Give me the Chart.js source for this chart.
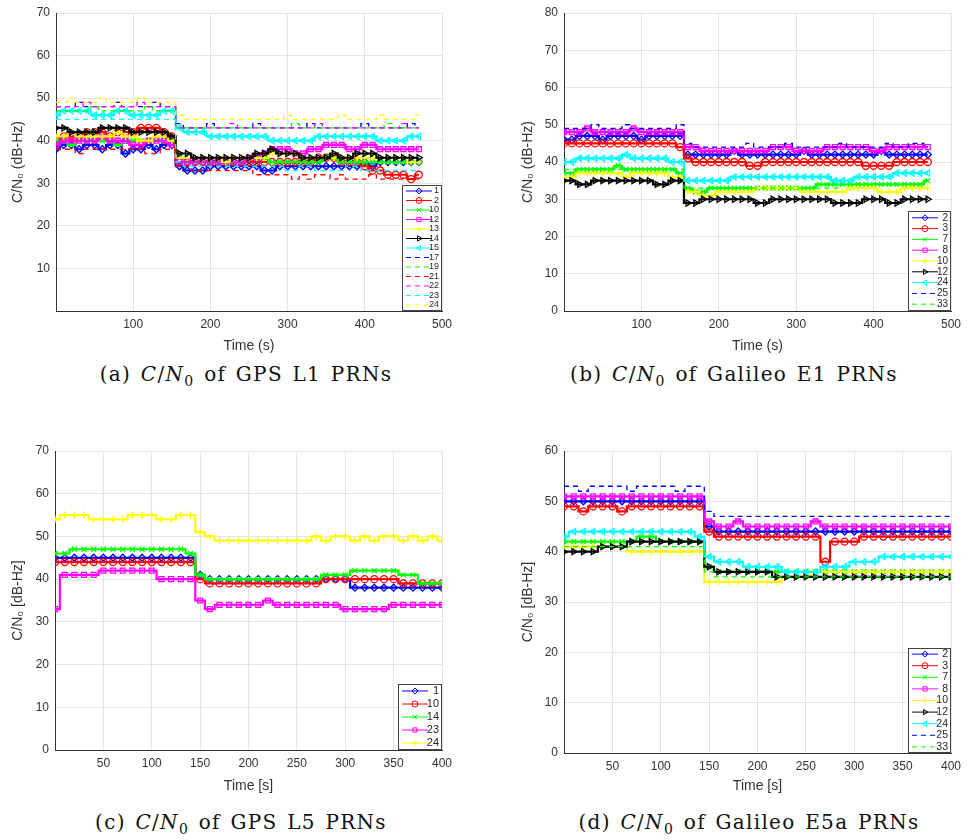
<!DOCTYPE html>
<html lang="en">
<head>
    <meta charset="UTF-8">
    <title>C/N0 of GPS and Galileo PRNs</title>
    <script src="https://cdn.jsdelivr.net/npm/chart.js"></script>
    <style>
        body { margin: 0; background: #fff; }
        #page { position: relative; width: 978px; height: 840px; overflow: hidden; }
        canvas { position: absolute; }
        .cap {
            position: absolute;
            width: 400px;
            text-align: center;
            font-family: "DejaVu Serif", "Liberation Serif", serif;
            font-size: 20px;
            letter-spacing: 1.3px;
            word-spacing: 2px;
            line-height: 24px;
            color: #111;
            white-space: nowrap;
        }
        .cap sub { font-size: 70%; line-height: 0; }
    </style>
</head>
<body>
<div id="page">
    <canvas id="chartA" width="489" height="360" style="left:0;top:0"></canvas>
    <canvas id="chartB" width="489" height="360" style="left:489px;top:0"></canvas>
    <canvas id="chartC" width="489" height="360" style="left:0;top:440px"></canvas>
    <canvas id="chartD" width="489" height="360" style="left:489px;top:440px"></canvas>
    <div class="cap" style="left:46px;top:362px">(a) <i>C</i>/<i>N</i><sub>0</sub> of GPS L1 PRNs</div>
    <div class="cap" style="left:534px;top:362px">(b) <i>C</i>/<i>N</i><sub>0</sub> of Galileo E1 PRNs</div>
    <div class="cap" style="left:41px;top:810px">(c) <i>C</i>/<i>N</i><sub>0</sub> of GPS L5 PRNs</div>
    <div class="cap" style="left:549px;top:810px">(d) <i>C</i>/<i>N</i><sub>0</sub> of Galileo E5a PRNs</div>
</div>

<script>
    // time axes (s)
    const timeL1E1 = [0,10,20,30,40,50,60,70,80,90,100,110,120,130,140,150,
        160,170,180,190,200,210,220,230,240,250,260,270,280,290,300,310,
        320,330,340,350,360,370,380,390,400,410,420,430,440,450,460,470];
    const timeL5E5a = [0,10,20,30,40,50,60,70,80,90,100,110,120,130,140,
        150,160,170,180,190,200,210,220,230,240,250,260,270,280,290,300,
        310,320,330,340,350,360,370,380,390,400];

    // (a) GPS L1, C/N0 in dB-Hz
    const l1Prn1  = [38,39,39,38,39,39,38,39,39,37,38,38,39,38,39,39,
        34,33,33,33,34,34,34,34,34,34,34,33,33,34,34,34,34,34,34,34,34,34,34,34,35,34,35,35,35,35,35,35];
    const l1Prn2  = [40,41,41,41,42,42,42,41,42,42,42,43,43,43,42,41,
        35,35,35,35,35,35,35,35,35,35,35,35,35,35,35,35,35,35,36,36,36,35,35,35,34,33,33,32,32,32,31,32];
    const l1Prn10 = [40,40,39,40,40,40,40,40,39,40,40,40,40,40,40,40,
        36,35,35,35,35,35,35,35,35,36,36,36,35,35,35,35,35,35,35,36,36,35,35,35,35,35,35,35,35,35,35,35];
    const l1Prn12 = [39,40,40,40,40,40,41,40,40,40,39,39,40,40,40,39,
        35,35,35,35,35,35,35,35,35,36,36,37,38,38,38,37,37,38,38,39,39,39,38,38,39,39,38,38,38,38,38,38];
    const l1Prn13 = [41,41,42,41,41,41,41,41,42,41,41,40,40,41,41,40,
        36,36,36,36,36,36,35,36,36,36,36,36,37,37,37,37,36,36,36,36,36,36,36,36,36,36,36,36,36,36,35,35];
    const l1Prn14 = [43,43,42,42,42,42,43,43,43,43,42,42,42,42,42,41,
        37,37,36,36,36,36,36,36,36,36,37,37,38,37,37,37,36,36,36,36,37,36,36,37,37,37,36,36,36,36,36,36];
    const l1Prn15 = [46,47,47,47,47,46,46,46,47,47,46,46,46,46,47,47,
        43,42,42,42,41,41,41,41,41,41,41,41,40,40,40,40,40,40,41,41,41,41,41,41,41,41,40,40,40,40,41,41];
    const l1Prn17 = [48,48,48,49,48,48,48,48,49,48,48,48,48,49,48,48,
        44,43,43,43,44,43,43,43,43,43,44,43,43,43,43,43,43,44,43,43,43,43,43,43,44,43,43,43,43,43,44,43];
    const l1Prn19 = [47,47,47,47,47,48,47,47,47,47,47,47,48,47,47,47,
        43,43,43,43,43,43,43,43,43,43,43,43,43,43,43,44,43,43,43,43,43,43,43,43,43,43,43,44,43,43,43,43];
    const l1Prn21 = [38,38,38,37,38,38,38,38,38,38,38,38,37,37,38,38,
        34,34,33,33,33,33,33,33,33,33,32,32,32,32,32,31,32,31,32,32,31,32,31,31,31,32,31,31,31,31,31,31];
    const l1Prn22 = [48,48,48,48,49,48,48,48,48,48,48,49,48,48,48,48,
        43,43,43,43,43,43,43,44,43,43,43,43,43,43,43,43,43,43,44,43,43,43,43,43,43,43,43,43,43,44,43,43];
    const l1Prn23 = [45,45,45,45,45,45,45,45,45,45,45,45,45,45,45,45,
        35,34,34,34,34,34,34,34,34,34,34,34,34,34,33,33,34,34,33,33,33,33,34,34,33,33,33,33,33,33,33,33];
    const l1Prn24 = [49,49,50,49,49,49,50,49,49,49,49,50,49,49,49,49,
        46,45,45,45,45,45,45,45,45,45,45,45,45,45,46,45,45,45,45,45,45,46,45,45,45,45,46,45,45,45,45,46];

    // (b) Galileo E1
    const e1Prn2  = [46,46,47,47,47,46,47,47,47,47,46,47,47,47,47,47,
        42,42,42,42,42,42,43,42,42,42,42,42,42,42,42,43,42,42,42,42,42,42,42,42,42,43,42,42,42,42,42,42];
    const e1Prn3  = [45,45,45,45,45,45,45,45,45,45,45,45,45,45,45,44,
        41,40,40,40,40,40,40,40,39,39,40,40,40,40,40,40,40,40,40,40,40,40,40,39,39,39,39,40,40,40,40,40];
    const e1Prn7  = [37,37,38,38,38,38,38,39,38,38,38,38,38,38,38,37,
        33,32,32,33,33,33,33,33,33,33,33,33,33,33,33,33,33,34,34,34,34,34,34,34,34,34,34,34,34,34,34,35];
    const e1Prn8  = [48,48,48,49,48,48,48,48,48,49,48,48,48,48,48,48,
        44,44,43,43,43,43,43,43,43,43,43,44,44,44,43,43,43,43,44,44,44,44,44,44,43,43,44,44,44,44,44,44];
    const e1Prn10 = [36,36,37,37,37,37,37,37,36,37,37,37,37,37,36,36,
        32,32,31,31,32,32,32,32,32,33,33,33,33,33,33,32,32,32,32,32,32,33,33,33,33,32,32,32,33,33,33,33];
    const e1Prn12 = [35,35,34,34,35,35,35,35,35,35,35,35,34,34,35,35,
        29,29,30,30,30,30,30,30,30,29,29,30,30,30,30,30,30,30,30,29,29,29,29,30,30,30,29,29,30,30,30,30];
    const e1Prn24 = [40,40,41,41,41,41,41,41,42,41,41,41,41,41,40,40,
        35,35,35,35,35,35,36,36,36,36,36,36,36,36,36,36,36,36,36,35,35,35,36,36,36,36,36,37,37,37,37,37];
    const e1Prn25 = [49,49,49,49,50,49,49,49,50,49,49,49,49,49,49,50,
        45,44,44,44,44,44,44,44,45,44,44,44,44,45,44,44,44,44,44,44,45,44,44,44,44,44,45,44,44,45,45,44];
    const e1Prn33 = [38,38,38,38,38,38,38,38,38,38,38,38,38,38,38,38,
        33,33,33,33,33,33,33,33,33,33,33,33,33,33,33,33,33,33,33,33,34,34,34,34,34,34,34,34,34,34,34,34];

    // (c) GPS L5
    const l5Prn1  = [45,45,45,45,45,45,45,45,45,45,45,45,45,45,45,
        41,40,40,40,40,40,40,40,40,40,40,40,40,40,40,40,38,38,38,38,38,38,38,38,38,38];
    const l5Prn10 = [44,44,44,44,44,44,44,44,44,44,44,44,44,44,44,
        40,39,39,39,39,39,39,39,39,39,39,39,39,40,40,40,40,40,40,40,40,39,39,39,39,39];
    const l5Prn14 = [46,46,47,47,47,47,47,47,47,47,47,47,47,47,46,
        41,40,40,40,40,40,40,40,40,40,40,40,40,41,41,41,42,42,42,42,42,41,41,39,39,39];
    const l5Prn23 = [33,41,41,41,41,42,42,42,42,42,42,40,40,40,40,
        35,33,34,34,34,34,34,35,34,34,34,34,34,34,34,33,33,33,33,33,34,34,34,34,34,34];
    const l5Prn24 = [54,55,55,55,54,54,54,54,55,55,55,54,54,55,55,
        51,50,49,49,49,49,49,49,49,49,49,49,50,49,50,50,49,50,49,50,50,49,50,49,50,49];

    // (d) Galileo E5a
    const e5Prn2  = [50,50,50,50,50,50,50,50,50,50,50,50,50,50,50,
        45,44,44,44,44,44,44,44,44,44,44,44,44,44,44,44,44,44,44,44,44,44,44,44,44,44];
    const e5Prn3  = [49,49,48,49,49,49,48,49,49,49,49,49,49,49,49,
        44,43,43,43,43,43,43,43,43,43,43,43,38,42,42,42,43,43,43,43,43,43,43,43,43,43];
    const e5Prn7  = [42,42,42,42,42,42,42,42,43,43,42,42,42,42,42,
        37,36,36,36,36,36,36,36,36,36,36,36,36,36,36,36,36,36,36,36,36,36,36,36,36,36];
    const e5Prn8  = [51,51,51,51,51,51,51,51,51,51,51,51,51,51,51,
        46,45,45,46,45,45,45,45,45,45,45,46,45,45,45,45,45,45,45,45,45,45,45,45,45,45];
    const e5Prn10 = [41,41,41,41,41,41,41,40,40,40,40,40,40,40,40,
        34,34,34,34,34,34,34,34,35,35,35,36,36,36,36,36,36,36,36,36,36,36,36,36,36,36];
    const e5Prn12 = [40,40,40,40,41,41,41,42,42,42,42,42,42,42,42,
        37,36,36,36,36,36,36,35,35,35,35,35,35,35,35,35,35,35,35,35,35,35,35,35,35,35];
    const e5Prn24 = [43,44,44,44,44,44,44,44,44,44,44,44,44,44,43,
        39,38,38,38,37,37,37,37,36,36,36,36,37,37,37,38,38,38,39,39,39,39,39,39,39,39];
    const e5Prn25 = [53,53,52,53,53,53,53,52,53,53,53,53,52,53,53,
        48,47,47,47,47,47,47,47,47,47,47,47,47,47,47,47,47,47,47,47,47,47,47,47,47,47];
    const e5Prn33 = [41,41,41,41,41,41,41,41,41,41,41,41,41,41,41,
        36,35,35,35,35,35,35,35,35,35,35,35,35,35,35,35,35,35,35,35,35,35,35,35,35,35];

    const MARKERS = {
        diamond: { pointStyle: 'rectRot', rotation: 0 },
        circle:  { pointStyle: 'circle', rotation: 0 },
        x:       { pointStyle: 'crossRot', rotation: 0 },
        square:  { pointStyle: 'rect', rotation: 0 },
        plus:    { pointStyle: 'cross', rotation: 0 },
        triR:    { pointStyle: 'triangle', rotation: 90 },
        triL:    { pointStyle: 'triangle', rotation: -90 }
    };

    const AXIS_COLOR = '#333333';
    const GRID_COLOR = '#e4e4e4';
    Chart.defaults.font.family = '"Liberation Sans", Arial, sans-serif';

    // legend drawn inside the plot, bottom right (MATLAB style)
    const insideLegend = {
        id: 'insideLegend',
        afterDatasetsDraw(chart, args, opts) {
            const { ctx, chartArea } = chart;
            const sets = chart.data.datasets;
            const w = opts.width, h = opts.height;
            const x0 = chartArea.right - w, y0 = chartArea.bottom - h;
            ctx.save();
            ctx.fillStyle = '#fff';
            ctx.fillRect(x0, y0, w, h);
            ctx.strokeStyle = '#444';
            ctx.lineWidth = 1;
            ctx.strokeRect(Math.round(x0) + 0.5, Math.round(y0) + 0.5, w - 1, h - 1);
            const firstY = y0 + (h - (sets.length - 1) * opts.rowH) / 2;
            sets.forEach((ds, i) => {
                const y = firstY + i * opts.rowH;
                const lx0 = x0 + 4, lx1 = x0 + 30;
                ctx.strokeStyle = ds.borderColor;
                ctx.lineWidth = 1;
                ctx.setLineDash(ds.borderDash || []);
                ctx.beginPath();
                ctx.moveTo(lx0, y);
                ctx.lineTo(lx1, y);
                ctx.stroke();
                ctx.setLineDash([]);
                if (ds.pointRadius > 0 && Chart.helpers && Chart.helpers.drawPoint) {
                    ctx.fillStyle = 'rgba(0,0,0,0)';
                    Chart.helpers.drawPoint(ctx, {
                        pointStyle: ds.pointStyle, rotation: ds.pointRotation,
                        radius: 3, borderWidth: 1
                    }, (lx0 + lx1) / 2, y);
                }
                ctx.fillStyle = '#262626';
                ctx.font = opts.fontSize + 'px "Liberation Sans", Arial, sans-serif';
                ctx.textAlign = 'right';
                ctx.textBaseline = 'middle';
                ctx.fillText(ds.label, x0 + w - 3, y);
            });
            ctx.restore();
        }
    };

    function makeChart(id, times, series, cfg) {
        const datasets = series.map((s, i) => {
            const m = s.marker ? MARKERS[s.marker] : null;
            return {
                label: s.label,
                data: times.map((t, k) => ({ x: t, y: s.values[k] })),
                borderColor: s.color,
                backgroundColor: s.color,
                borderWidth: s.dashed ? 1.3 : 2.2,
                borderDash: s.dashed ? [5, 4] : [],
                stepped: 'middle',
                fill: false,
                pointRadius: m ? 3.5 : 0,
                pointHoverRadius: 0,
                pointStyle: m ? m.pointStyle : 'circle',
                pointRotation: m ? m.rotation : 0,
                pointBorderColor: s.color,
                pointBackgroundColor: 'rgba(0,0,0,0)',
                pointBorderWidth: 1.3,
                order: -i
            };
        });

        const tickFont = { size: 12 };
        return new Chart(document.getElementById(id), {
            type: 'line',
            data: { datasets },
            plugins: [insideLegend],
            options: {
                responsive: false,
                animation: false,
                events: [],
                layout: { padding: cfg.padding },
                plugins: {
                    legend: { display: false },
                    tooltip: { enabled: false },
                    insideLegend: cfg.legend
                },
                scales: {
                    x: {
                        type: 'linear',
                        min: 0,
                        max: cfg.xMax,
                        ticks: {
                            stepSize: cfg.xStep,
                            autoSkip: false,
                            maxRotation: 0,
                            color: AXIS_COLOR,
                            font: tickFont,
                            padding: 6,
                            callback: v => v === 0 ? '' : v
                        },
                        grid: { color: GRID_COLOR, drawTicks: false },
                        border: { color: AXIS_COLOR, width: 1 },
                        title: {
                            display: true,
                            text: cfg.xTitle,
                            color: AXIS_COLOR,
                            font: { size: 14 },
                            padding: { top: 2, bottom: 5 }
                        },
                        afterFit: s => {
                            s.height = cfg.xH;
                            s.paddingLeft = 0; s.paddingRight = 0;
                        }
                    },
                    y: {
                        min: 0,
                        max: cfg.yMax,
                        ticks: {
                            stepSize: 10,
                            color: AXIS_COLOR,
                            font: tickFont,
                            padding: 6,
                            callback: v => (v === 0 && cfg.hideY0) ? '' : v
                        },
                        grid: { color: GRID_COLOR, drawTicks: false },
                        border: { color: AXIS_COLOR, width: 1 },
                        title: {
                            display: true,
                            text: cfg.yTitle,
                            color: AXIS_COLOR,
                            font: { size: 14 },
                            padding: { top: 4, bottom: 4 }
                        },
                        afterFit: s => {
                            s.width = cfg.yW;
                            s.paddingTop = 0; s.paddingBottom = 0;
                        }
                    }
                }
            }
        });
    }

    makeChart('chartA', timeL1E1, [
        { label: '1',  values: l1Prn1,  color: '#0000ff', marker: 'diamond' },
        { label: '2',  values: l1Prn2,  color: '#ff0000', marker: 'circle' },
        { label: '10', values: l1Prn10, color: '#00ff00', marker: 'x' },
        { label: '12', values: l1Prn12, color: '#ff00ff', marker: 'square' },
        { label: '13', values: l1Prn13, color: '#ffff00', marker: 'plus' },
        { label: '14', values: l1Prn14, color: '#000000', marker: 'triR' },
        { label: '15', values: l1Prn15, color: '#00ffff', marker: 'triL' },
        { label: '17', values: l1Prn17, color: '#0000ff', dashed: true },
        { label: '19', values: l1Prn19, color: '#00ff00', dashed: true },
        { label: '21', values: l1Prn21, color: '#ff0000', dashed: true },
        { label: '22', values: l1Prn22, color: '#ff00ff', dashed: true },
        { label: '23', values: l1Prn23, color: '#00ffff', dashed: true },
        { label: '24', values: l1Prn24, color: '#ffff00', dashed: true }
    ], {
        padding: { left: 6, right: 47, top: 13, bottom: 0 }, yW: 50, xH: 49,
        xMax: 500, xStep: 100, yMax: 70, hideY0: true,
        xTitle: 'Time (s)', yTitle: 'C/N\u2080 (dB-Hz)',
        legend: { width: 40, height: 126, rowH: 9.5, fontSize: 9 }
    });

    makeChart('chartB', timeL1E1, [
        { label: '2',  values: e1Prn2,  color: '#0000ff', marker: 'diamond' },
        { label: '3',  values: e1Prn3,  color: '#ff0000', marker: 'circle' },
        { label: '7',  values: e1Prn7,  color: '#00ff00', marker: 'x' },
        { label: '8',  values: e1Prn8,  color: '#ff00ff', marker: 'square' },
        { label: '10', values: e1Prn10, color: '#ffff00', marker: 'plus' },
        { label: '12', values: e1Prn12, color: '#000000', marker: 'triR' },
        { label: '24', values: e1Prn24, color: '#00ffff', marker: 'triL' },
        { label: '25', values: e1Prn25, color: '#0000ff', dashed: true },
        { label: '33', values: e1Prn33, color: '#00ff00', dashed: true }
    ], {
        padding: { left: 27, right: 27, top: 13, bottom: 0 }, yW: 48, xH: 49,
        xMax: 500, xStep: 100, yMax: 80, hideY0: false,
        xTitle: 'Time (s)', yTitle: 'C/N\u2080 (dB-Hz)',
        legend: { width: 43, height: 100, rowH: 10.8, fontSize: 10 }
    });

    makeChart('chartC', timeL5E5a, [
        { label: '1',  values: l5Prn1,  color: '#0000ff', marker: 'diamond' },
        { label: '10', values: l5Prn10, color: '#ff0000', marker: 'circle' },
        { label: '14', values: l5Prn14, color: '#00ff00', marker: 'x' },
        { label: '23', values: l5Prn23, color: '#ff00ff', marker: 'square' },
        { label: '24', values: l5Prn24, color: '#ffff00', marker: 'plus' }
    ], {
        padding: { left: 6, right: 47, top: 11, bottom: 0 }, yW: 49, xH: 50,
        xMax: 400, xStep: 50, yMax: 70, hideY0: false,
        xTitle: 'Time [s]', yTitle: 'C/N\u2080 [dB-Hz]',
        legend: { width: 44, height: 66, rowH: 13, fontSize: 11 }
    });

    makeChart('chartD', timeL5E5a, [
        { label: '2',  values: e5Prn2,  color: '#0000ff', marker: 'diamond' },
        { label: '3',  values: e5Prn3,  color: '#ff0000', marker: 'circle' },
        { label: '7',  values: e5Prn7,  color: '#00ff00', marker: 'x' },
        { label: '8',  values: e5Prn8,  color: '#ff00ff', marker: 'square' },
        { label: '10', values: e5Prn10, color: '#ffff00', marker: 'plus' },
        { label: '12', values: e5Prn12, color: '#000000', marker: 'triR' },
        { label: '24', values: e5Prn24, color: '#00ffff', marker: 'triL' },
        { label: '25', values: e5Prn25, color: '#0000ff', dashed: true },
        { label: '33', values: e5Prn33, color: '#00ff00', dashed: true }
    ], {
        padding: { left: 27, right: 27, top: 11, bottom: 0 }, yW: 48, xH: 47,
        xMax: 400, xStep: 50, yMax: 60, hideY0: false,
        xTitle: 'Time [s]', yTitle: 'C/N\u2080 [dB-Hz]',
        legend: { width: 43, height: 105, rowH: 11.6, fontSize: 10.5 }
    });
</script>
</body>
</html>
